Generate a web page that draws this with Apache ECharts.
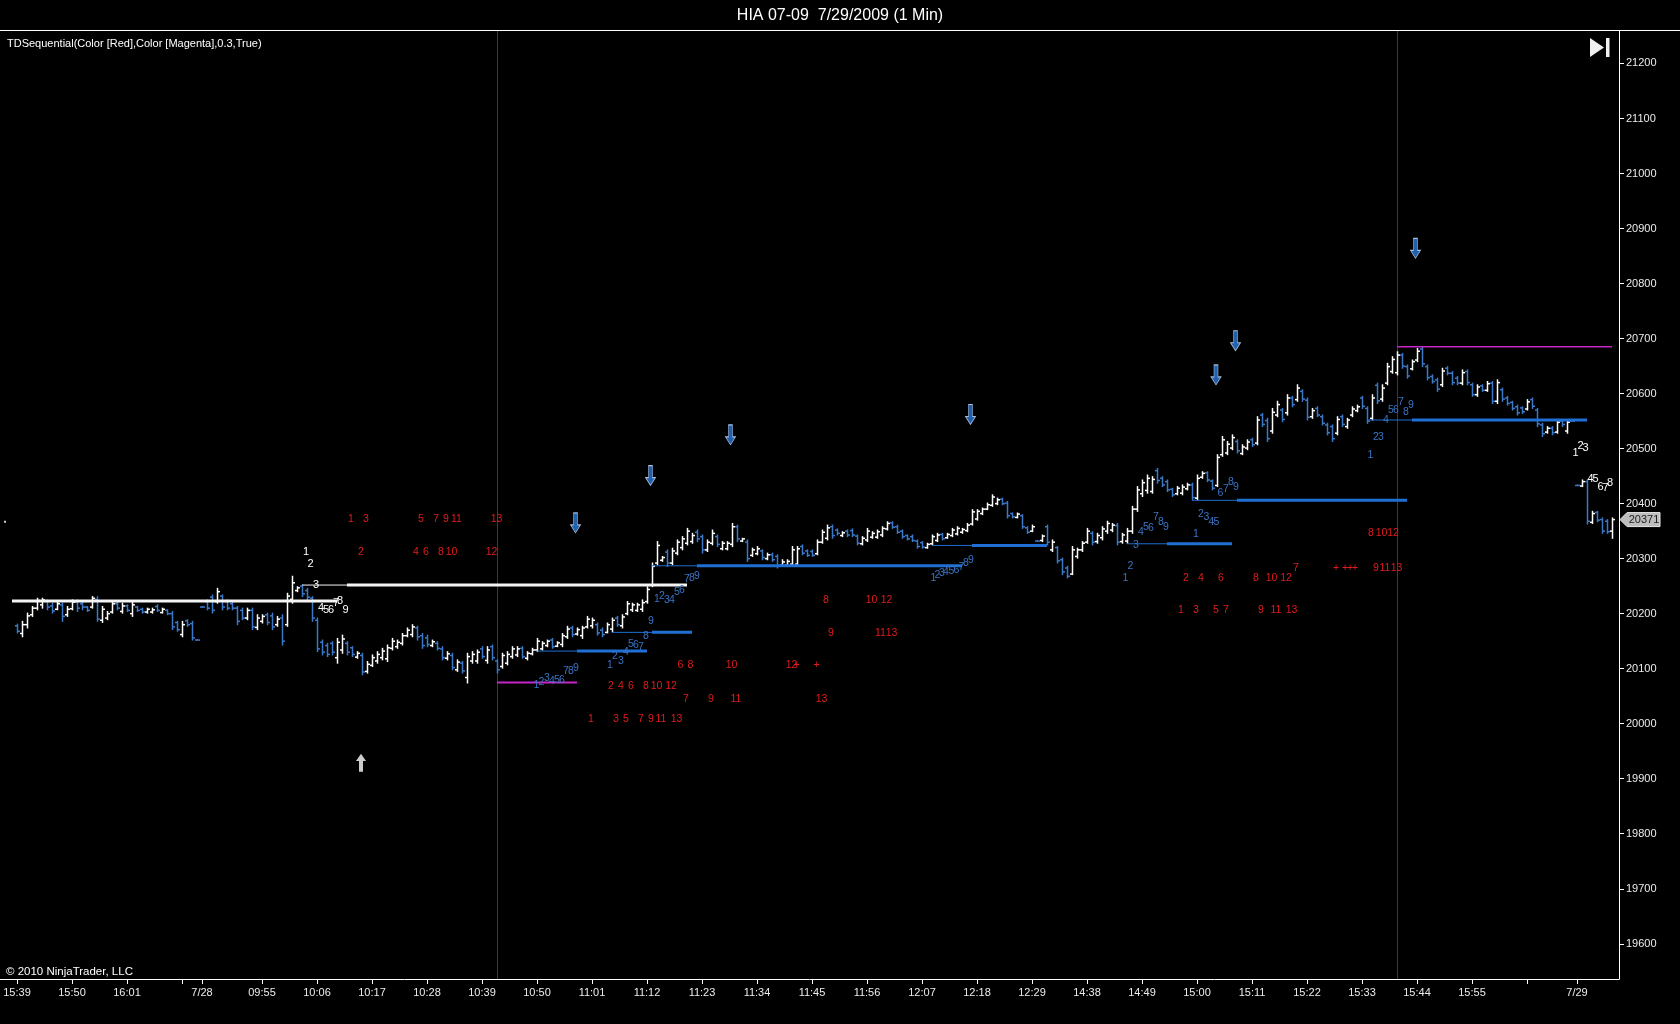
<!DOCTYPE html>
<html lang="en">
<head>
<meta charset="UTF-8">
<title>HIA 07-09 7/29/2009 (1 Min)</title>
<style>
  html, body { margin: 0; padding: 0; background: #000; }
  #chart { width: 1680px; height: 1024px; }
</style>
</head>
<body>
<div id="chart"></div>
<script src="https://cdn.jsdelivr.net/npm/echarts@6/dist/echarts.min.js"></script>
<script>
const FONT = '"Liberation Sans", Arial, sans-serif';

// x axis: bar index -> time label ('' = tick only)
const tickIdx  = [0, 11, 22, 33, 37, 49, 60, 71, 82, 93, 104, 115, 126, 137, 148, 159, 170, 181, 192, 203,
                  214, 225, 236, 247, 258, 269, 280, 291, 302, 312];
const tickText = ['15:39', '15:50', '16:01', '', '7/28', '09:55', '10:06', '10:17', '10:28', '10:39', '10:50',
                  '11:01', '11:12', '11:23', '11:34', '11:45', '11:56', '12:07', '12:18', '12:29', '14:38',
                  '14:49', '15:00', '15:11', '15:22', '15:33', '15:44', '15:55', '', '7/29'];
const priceTicks = [19600, 19700, 19800, 19900, 20000, 20100, 20200, 20300, 20400, 20500,
                    20600, 20700, 20800, 20900, 21000, 21100, 21200];

// first bar index of each session
const sessionStart = [0, 37, 205, 312];

// [open, high, low, close]
const day1Bars = [
  [20178,20181,20165,20168],[20164,20186,20158,20180],[20180,20201,20174,20196],[20198,20213,20195,20210],[20210,20228,20207,20224], // 0
  [20216,20228,20210,20225],[20222,20225,20207,20212],[20214,20219,20201,20205],[20208,20222,20207,20218],[20216,20219,20186,20195], // 5
  [20198,20213,20195,20208],[20209,20225,20207,20221],[20221,20225,20204,20210],[20218,20222,20207,20212],[20212,20213,20204,20206], // 10
  [20212,20231,20210,20228],[20226,20231,20186,20190],[20188,20213,20184,20208],[20192,20204,20189,20200],[20203,20222,20201,20218], // 15
  [20218,20222,20207,20210],[20204,20219,20201,20214],[20214,20216,20204,20206],[20200,20222,20195,20216],[20212,20213,20204,20206], // 20
  [20208,20210,20201,20203],[20203,20210,20201,20208],[20203,20210,20201,20207],[20213,20216,20204,20206],[20202,20210,20201,20208], // 25
  [20206,20207,20198,20200],[20200,20204,20171,20176],[20184,20186,20168,20171],[20162,20186,20158,20180],[20187,20189,20177,20180], // 30
  [20182,20186,20152,20156],[20152,20153,20152,20152]                                                                                 // 35
];
const amBars = [
  [20212,20213,20212,20212],[20222,20225,20207,20210],[20230,20234,20201,20206],[20222,20246,20219,20240],[20232,20234,20207,20212], // 37
  [20222,20225,20207,20210],[20218,20222,20207,20210],[20210,20213,20180,20186],[20206,20210,20189,20192],[20192,20210,20189,20206], // 42
  [20206,20210,20171,20176],[20175,20198,20171,20192],[20186,20198,20183,20195],[20198,20201,20180,20184],[20196,20201,20171,20176], // 47
  [20180,20195,20177,20190],[20192,20198,20143,20150],[20180,20237,20177,20232],[20226,20268,20219,20256],[20242,20249,20240,20247], // 52
  [20250,20252,20231,20236],[20242,20246,20225,20230],[20228,20231,20186,20192],[20188,20192,20131,20136],[20148,20152,20125,20130], // 57
  [20142,20146,20122,20126],[20146,20149,20125,20130],[20120,20155,20110,20148],[20134,20161,20128,20154],[20146,20149,20125,20130], // 62
  [20138,20140,20122,20126],[20121,20131,20119,20128],[20124,20128,20089,20094],[20095,20113,20092,20108],[20106,20125,20104,20120], // 67
  [20114,20131,20110,20126],[20120,20137,20116,20132],[20118,20143,20113,20138],[20137,20155,20134,20150],[20140,20152,20137,20148], // 72
  [20146,20164,20143,20160],[20160,20174,20158,20170],[20162,20180,20158,20176],[20174,20177,20152,20158],[20160,20164,20137,20142], // 77
  [20156,20161,20140,20144],[20142,20152,20140,20149],[20146,20149,20134,20137],[20136,20140,20116,20120],[20119,20131,20116,20127], // 82
  [20124,20128,20098,20102],[20098,20116,20095,20112],[20110,20113,20092,20096],[20084,20128,20074,20122],[20114,20131,20110,20126], // 87
  [20114,20134,20110,20130],[20136,20140,20119,20122],[20115,20140,20110,20134],[20140,20143,20116,20120],[20114,20116,20092,20098], // 92
  [20104,20128,20101,20124],[20110,20131,20107,20126],[20122,20140,20119,20136],[20125,20140,20122,20136],[20137,20140,20119,20122], // 97
  [20119,20131,20116,20128],[20127,20137,20125,20134],[20134,20155,20131,20150],[20136,20149,20134,20146],[20142,20152,20140,20150], // 102
  [20152,20155,20137,20140],[20141,20149,20140,20147],[20144,20164,20140,20160],[20158,20177,20155,20172],[20174,20177,20158,20162], // 107
  [20163,20174,20161,20171],[20160,20177,20155,20174],[20176,20195,20174,20190],[20178,20192,20174,20188],[20180,20183,20161,20165], // 112
  [20170,20174,20158,20162],[20166,20183,20165,20180],[20172,20192,20167,20188],[20192,20195,20177,20180],[20178,20198,20174,20194], // 117
  [20200,20222,20198,20218],[20207,20219,20204,20216],[20206,20219,20204,20216],[20208,20225,20204,20220],[20222,20249,20219,20244], // 122
  [20252,20292,20249,20286],[20292,20331,20289,20324],[20297,20304,20295,20302],[20312,20316,20286,20292],[20292,20319,20289,20314], // 127
  [20310,20334,20307,20330],[20320,20340,20316,20336],[20328,20355,20325,20350],[20331,20346,20328,20342],[20348,20352,20331,20336], // 132
  [20340,20343,20310,20316],[20316,20334,20313,20330],[20328,20352,20325,20346],[20340,20343,20322,20326],[20318,20331,20316,20328], // 137
  [20318,20331,20316,20328],[20326,20364,20322,20358],[20358,20361,20331,20336],[20332,20337,20331,20336],[20330,20334,20295,20300], // 142
  [20306,20319,20304,20316],[20309,20322,20307,20318],[20314,20316,20298,20302],[20300,20310,20298,20307],[20307,20310,20295,20298], // 147
  [20304,20307,20283,20288],[20288,20298,20286,20294],[20288,20298,20286,20295],[20290,20322,20286,20316],[20290,20322,20286,20318], // 152
  [20322,20325,20307,20310],[20314,20316,20304,20306],[20313,20316,20304,20306],[20309,20334,20307,20330],[20330,20352,20328,20348], // 157
  [20337,20361,20334,20356],[20358,20361,20337,20342],[20352,20354,20343,20346],[20342,20349,20340,20347],[20350,20352,20340,20343], // 162
  [20351,20354,20340,20343],[20341,20343,20325,20328],[20327,20340,20325,20337],[20334,20355,20331,20350],[20339,20349,20337,20346], // 167
  [20339,20352,20337,20349],[20343,20358,20340,20355],[20354,20367,20352,20364],[20365,20367,20355,20357],[20358,20361,20346,20348], // 172
  [20350,20352,20337,20340],[20342,20343,20334,20336],[20340,20343,20331,20333],[20332,20334,20319,20322],[20329,20331,20319,20321], // 177
  [20320,20328,20319,20326],[20327,20343,20325,20340],[20333,20346,20331,20343],[20344,20346,20334,20336],[20338,20346,20337,20344], // 182
  [20342,20355,20340,20352],[20345,20358,20343,20355],[20348,20355,20346,20353],[20351,20364,20349,20361],[20363,20389,20361,20385], // 187
  [20372,20389,20370,20386],[20382,20392,20380,20390],[20390,20401,20389,20398],[20397,20416,20395,20412],[20400,20410,20398,20407], // 192
  [20408,20410,20398,20400],[20401,20404,20374,20378],[20382,20383,20374,20376],[20375,20383,20374,20381],[20378,20380,20355,20358], // 197
  [20356,20358,20346,20348],[20350,20361,20349,20358],[20332,20333,20332,20332]                                                       // 202
];
const pmBars = [
  [20333,20343,20331,20341],[20358,20361,20325,20330],[20316,20334,20313,20330],[20320,20322,20292,20296],[20298,20301,20271,20276], // 205
  [20283,20286,20265,20268],[20272,20322,20271,20316],[20304,20319,20301,20316],[20316,20331,20313,20328],[20330,20355,20328,20350], // 210
  [20346,20349,20325,20330],[20331,20346,20328,20342],[20338,20358,20334,20354],[20350,20368,20346,20364],[20352,20364,20349,20361], // 215
  [20360,20364,20325,20330],[20331,20346,20328,20343],[20332,20355,20328,20350],[20350,20395,20346,20390],[20390,20431,20386,20425], // 220
  [20418,20443,20413,20438],[20424,20452,20419,20446],[20422,20449,20419,20444],[20460,20464,20437,20442],[20446,20449,20431,20434], // 225
  [20440,20443,20422,20425],[20426,20428,20413,20416],[20418,20431,20416,20428],[20419,20434,20416,20430],[20427,20437,20425,20434], // 230
  [20434,20437,20407,20411],[20410,20452,20407,20446],[20448,20458,20446,20455],[20456,20458,20440,20443],[20441,20443,20425,20428], // 235
  [20433,20489,20431,20484],[20489,20522,20486,20516],[20492,20513,20489,20508],[20501,20525,20498,20520],[20513,20516,20492,20496], // 240
  [20491,20507,20489,20503],[20501,20516,20498,20512],[20516,20519,20504,20507],[20510,20558,20507,20552],[20561,20564,20540,20544], // 245
  [20551,20555,20513,20518],[20532,20573,20528,20566],[20561,20586,20558,20580],[20570,20573,20549,20553],[20565,20598,20561,20592], // 250
  [20592,20595,20576,20580],[20589,20616,20586,20610],[20604,20607,20586,20590],[20588,20592,20552,20557],[20558,20573,20555,20569], // 255
  [20573,20576,20558,20561],[20558,20561,20543,20546],[20543,20546,20525,20529],[20540,20543,20513,20518],[20528,20558,20525,20553], // 260
  [20558,20561,20540,20544],[20540,20555,20537,20552],[20561,20576,20558,20572],[20569,20579,20567,20576],[20592,20595,20573,20577], // 265
  [20573,20576,20546,20550],[20555,20598,20552,20592],[20615,20619,20582,20587],[20590,20616,20586,20610],[20619,20655,20616,20649], // 270
  [20640,20667,20637,20662],[20638,20676,20634,20670],[20670,20673,20646,20650],[20649,20652,20628,20632],[20645,20661,20643,20658], // 275
  [20661,20682,20658,20677],[20681,20685,20649,20654],[20649,20652,20625,20629],[20631,20634,20619,20622],[20625,20628,20604,20608], // 280
  [20616,20646,20613,20641],[20646,20649,20634,20637],[20637,20640,20616,20620],[20628,20631,20616,20619],[20619,20643,20616,20638], // 285
  [20640,20643,20616,20620],[20616,20619,20595,20598],[20598,20616,20595,20612],[20614,20616,20604,20606],[20606,20622,20604,20618], // 290
  [20619,20622,20582,20586],[20586,20625,20582,20620],[20607,20610,20586,20590],[20592,20595,20579,20582],[20584,20586,20570,20573], // 295
  [20576,20579,20561,20565],[20574,20576,20564,20567],[20572,20589,20570,20585],[20589,20592,20573,20577],[20570,20573,20540,20545], // 300
  [20543,20546,20522,20527],[20530,20540,20528,20537],[20537,20540,20525,20529],[20530,20552,20528,20548],[20550,20552,20540,20544], // 305
  [20532,20552,20528,20548],[20550,20551,20550,20550]                                                                                 // 310
];
const day3Bars = [
  [20433,20434,20433,20433],[20432,20443,20431,20440],[20440,20443,20363,20368],[20366,20386,20364,20382],[20384,20386,20367,20370], // 312
  [20371,20374,20346,20350],[20368,20371,20346,20349],[20350,20374,20337,20371]                                                       // 317
];
const lastPrice = 20371;

// TDST levels: [fromBar, toBar, price, lineWidth]
const whiteLevels = [[-1, 64, 20223, 3], [57, 66, 20252, 1], [66, 134, 20252, 3]];
const blueLevels = [
  [104, 112, 20132, 1], [112, 126, 20132, 3], [119, 127, 20166, 1], [127, 135, 20166, 3],
  [127, 136, 20287, 1], [136, 189, 20287, 3], [183, 191, 20324, 1], [191, 206, 20324, 3],
  [222, 230, 20327, 1], [230, 243, 20327, 3], [235, 244, 20406, 1], [244, 278, 20406, 3],
  [270, 279, 20552, 1], [279, 314, 20552, 3]
];
const magentaLevels = [[96, 112, 20075, 2], [276, 319, 20685, 1.5]];

// countdown completion markers (bar index of red vertical line)
const countdownBars = [95.9, 275.9];

// TD counts: [bar, price, text]
const redMarks = [
  [66.8,20372,'1'],[69.8,20372,'3'],[80.8,20372,'5'],[83.8,20372,'7'],[85.8,20372,'9'],[87.9,20372,'11'],[95.9,20372,'13'],
  [68.8,20312,'2'],[79.8,20312,'4'],[81.8,20312,'6'],[84.8,20312,'8'],[86.9,20312,'10'],[94.9,20312,'12'],
  [132.7,20106,'6'],[134.7,20106,'8'],[142.9,20106,'10'],[154.9,20106,'12'],[155.9,20106,'+'],[159.9,20106,'+'],
  [118.8,20069,'2'],[120.8,20069,'4'],[122.8,20069,'6'],[125.8,20069,'8'],[127.9,20069,'10'],[130.8,20069,'12'],
  [133.8,20045,'7'],[138.8,20045,'9'],[143.8,20045,'11'],[160.9,20045,'13'],
  [114.8,20009,'1'],[119.8,20009,'3'],[121.8,20009,'5'],[124.8,20009,'7'],[126.8,20009,'9'],[128.8,20009,'11'],[131.9,20009,'13'],
  [161.8,20225,'8'],[170.9,20225,'10'],[173.9,20225,'12'],
  [162.8,20165,'9'],[172.7,20165,'11'],[174.9,20165,'13'],
  [233.8,20264,'2'],[236.8,20264,'4'],[240.8,20264,'6'],[247.8,20264,'8'],[250.9,20264,'10'],[253.8,20264,'12'],
  [255.8,20283,'7'],[263.8,20283,'+'],[265.6,20283,'+'],[266.6,20283,'+'],[267.6,20283,'+'],
  [232.8,20206,'1'],[235.8,20206,'3'],[239.8,20206,'5'],[241.8,20206,'7'],[248.8,20206,'9'],[251.8,20206,'11'],[254.9,20206,'13'],
  [270.8,20346,'8'],[272.9,20346,'10'],[275.2,20346,'12'],
  [271.8,20283,'9'],[273.6,20283,'11'],[275.9,20283,'13']
];
const blueMarks = [
  [103.9,20071,'1'],[104.9,20075,'2'],[106,20082,'3'],[107,20077,'4'],[108,20080,'5'],[109,20080,'6'],[109.8,20095,'7'],[110.8,20095,'8'],[111.8,20101,'9'],
  [118.6,20107,'1'],[119.6,20122,'2'],[120.8,20114,'3'],[121.8,20131,'4'],[122.8,20145,'5'],[123.8,20143,'6'],[124.8,20140,'7'],[125.8,20160,'8'],[126.8,20187,'9'],
  [128,20226,'1'],[129,20231,'2'],[130,20225,'3'],[131,20224,'4'],[132,20240,'5'],[133,20242,'6'],[134,20263,'7'],[135,20265,'8'],[136,20269,'9'],
  [183.3,20265,'1'],[184.1,20270,'2'],[185,20274,'3'],[185.8,20275,'4'],[186.9,20278,'5'],[187.9,20280,'6'],[188.9,20284,'7'],[189.8,20292,'8'],[190.8,20298,'9'],
  [221.7,20265,'1'],[222.7,20286,'2'],[223.8,20324,'3'],[224.8,20349,'4'],[225.8,20358,'5'],[226.8,20356,'6'],[227.8,20375,'7'],[228.8,20367,'8'],[229.8,20358,'9'],
  [235.8,20345,'1'],[236.8,20381,'2'],[237.9,20376,'3'],[238.9,20366,'4'],[239.9,20366,'5'],[240.7,20419,'6'],[241.8,20427,'7'],[242.8,20440,'8'],[243.8,20430,'9'],
  [270.7,20489,'1'],[271.8,20521,'2'],[272.8,20521,'3'],[273.8,20552,'4'],[274.8,20570,'5'],[275.8,20570,'6'],[276.8,20585,'7'],[277.8,20567,'8'],[278.8,20579,'9']
];
const whiteMarks = [
  [57.8,20313,'1'],[58.7,20290,'2'],[59.8,20252,'3'],[60.8,20211,'4'],[61.8,20206,'5'],[62.8,20206,'6'],[63.8,20219,'7'],[64.6,20223,'8'],[65.7,20207,'9'],
  [311.7,20492,'1'],[312.7,20505,'2'],[313.7,20501,'3'],[314.7,20444,'4'],[315.7,20444,'5'],[316.7,20431,'6'],[317.7,20428,'7'],[318.6,20437,'8']
];

// signal arrows [bar, price]
const sellArrows = [[111.7,20365],[126.7,20451],[142.7,20525],[190.7,20562],[239.8,20634],[243.7,20696],[279.7,20864]];
const buyArrows = [[68.8,19929]];
const strayDots = [[-2.4,20367]];

const UP = '#ffffff', DOWN = '#3b78c8', LEVEL_BLUE = '#1f6fd4', MAGENTA = '#c626c6', RED = '#e21c1c';

const bars = [];
[day1Bars, amBars, pmBars, day3Bars].forEach((arr, s) => {
  arr.forEach((b, k) => bars.push([sessionStart[s] + k, b[0], b[1], b[2], b[3]]));
});

function renderBar(params, api) {
  const i = api.value(0);
  const o = api.coord([i, api.value(1)]);
  const h = api.coord([i, api.value(2)]);
  const l = api.coord([i, api.value(3)]);
  const c = api.coord([i, api.value(4)]);
  const x = Math.round(h[0]) + 0.5;
  const color = api.value(4) > api.value(1) ? UP : DOWN;
  const st = { stroke: color, lineWidth: 1.5 };
  return {
    type: 'group',
    children: [
      { type: 'line', shape: { x1: x, y1: h[1] - 0.5, x2: x, y2: l[1] + 0.5 }, style: st },
      { type: 'line', shape: { x1: x - 2.5, y1: o[1], x2: x, y2: o[1] }, style: st },
      { type: 'line', shape: { x1: x, y1: c[1], x2: x + 2.5, y2: c[1] }, style: st }
    ]
  };
}

function levelRenderer(color) {
  return function (params, api) {
    const a = api.coord([api.value(0), api.value(2)]);
    const b = api.coord([api.value(1), api.value(2)]);
    const w = api.value(3);
    return {
      type: 'line',
      shape: { x1: a[0], y1: a[1], x2: b[0], y2: a[1] },
      style: { stroke: color, lineWidth: w }
    };
  };
}

function textRenderer(list, color, size) {
  return function (params, api) {
    const m = list[params.dataIndex];
    const p = api.coord([m[0], m[1]]);
    return {
      type: 'text', x: p[0], y: p[1],
      style: { text: m[2], fill: color, fontSize: size, fontFamily: FONT, align: 'center', verticalAlign: 'middle' }
    };
  };
}

const Y_MIN = 19536, Y_MAX = 21259;

function renderVLine(params, api) {
  const top = api.coord([api.value(0), Y_MAX]);
  const bot = api.coord([api.value(0), Y_MIN]);
  const x = Math.round(top[0]) + 0.5;
  return { type: 'line', shape: { x1: x, y1: top[1], x2: x, y2: bot[1] }, style: { stroke: '#a01010', lineWidth: 1 } };
}

const chart = echarts.init(document.getElementById('chart'));

chart.setOption({
  animation: false,
  backgroundColor: '#000000',
  textStyle: { fontFamily: FONT },
  title: {
    text: 'HIA 07-09  7/29/2009 (1 Min)',
    left: 'center', top: 3,
    textStyle: { color: '#ffffff', fontSize: 16, fontWeight: 'normal', fontFamily: FONT }
  },
  grid: { left: 0, right: 61, top: 31, bottom: 45, outerBoundsMode: 'none' },
  xAxis: {
    type: 'value', min: -3.4, max: 320.4,
    axisLine: { onZero: false, lineStyle: { color: '#ffffff', width: 1 } },
    axisTick: { show: true, length: 5, lineStyle: { color: '#ffffff' }, customValues: tickIdx },
    axisLabel: {
      color: '#ececec', fontSize: 11, fontFamily: FONT, margin: 8, customValues: tickIdx,
      formatter: v => tickText[tickIdx.indexOf(v)] || ''
    },
    splitLine: { show: false }
  },
  yAxis: {
    type: 'value', position: 'right', min: Y_MIN, max: Y_MAX,
    axisLine: { show: true, onZero: false, lineStyle: { color: '#ffffff', width: 1 } },
    axisTick: { show: true, length: 5, lineStyle: { color: '#ffffff' }, customValues: priceTicks },
    axisLabel: {
      color: '#ececec', fontSize: 11, fontFamily: FONT, margin: 7, customValues: priceTicks,
      formatter: v => String(v)
    },
    splitLine: { show: false }
  },
  series: [
    { type: 'custom', name: 'countdown', data: countdownBars.map(v => [v, Y_MAX]), renderItem: renderVLine, silent: true },
    { type: 'custom', name: 'bars', data: bars, renderItem: renderBar, silent: true },
    { type: 'custom', name: 'whiteLevels', data: whiteLevels, renderItem: levelRenderer('#f4f4f4'), silent: true },
    { type: 'custom', name: 'blueLevels', data: blueLevels, renderItem: levelRenderer(LEVEL_BLUE), silent: true },
    { type: 'custom', name: 'magentaLevels', data: magentaLevels, renderItem: levelRenderer(MAGENTA), silent: true },
    { type: 'custom', name: 'redMarks', data: redMarks.map(m => [m[0], m[1]]), renderItem: textRenderer(redMarks, RED, 10.5), silent: true },
    { type: 'custom', name: 'blueMarks', data: blueMarks.map(m => [m[0], m[1]]), renderItem: textRenderer(blueMarks, '#3a74c4', 10.5), silent: true },
    { type: 'custom', name: 'whiteMarks', data: whiteMarks.map(m => [m[0], m[1]]), renderItem: textRenderer(whiteMarks, '#ffffff', 11), silent: true },
    {
      type: 'scatter', name: 'sell', data: sellArrows, silent: true,
      symbol: 'path://M3,0L7,0L7,12L10,12L5,20L0,12L3,12Z', symbolSize: [10, 20],
      itemStyle: { color: '#2a78d8', borderColor: '#cfe2ff', borderWidth: 0.8 }
    },
    {
      type: 'scatter', name: 'buy', data: buyArrows, silent: true,
      symbol: 'path://M5,0L10,8L7,8L7,20L3,20L3,8L0,8Z', symbolSize: [10, 18],
      itemStyle: { color: '#ffffff' }
    },
    {
      type: 'scatter', name: 'dots', data: strayDots, silent: true,
      symbol: 'rect', symbolSize: 2, itemStyle: { color: '#ffffff' }
    }
  ],
  graphic: [
    { id: 'topLine', type: 'line', shape: { x1: 0, y1: 30.5, x2: 1680, y2: 30.5 }, style: { stroke: '#ffffff', lineWidth: 1 } },
    {
      id: 'indicator', type: 'text', x: 7, y: 44,
      style: { text: 'TDSequential(Color [Red],Color [Magenta],0.3,True)', fill: '#ffffff', fontSize: 11, fontFamily: FONT, verticalAlign: 'middle' }
    },
    {
      id: 'copyright', type: 'text', x: 6, y: 978,
      style: { text: '\u00a9 2010 NinjaTrader, LLC', fill: '#ffffff', fontSize: 11.5, fontFamily: FONT, verticalAlign: 'bottom' }
    },
    { id: 'endTri', type: 'polygon', shape: { points: [[1590, 38], [1590, 57], [1604, 47.5]] }, style: { fill: '#f0f0f0' } },
    { id: 'endBar', type: 'rect', shape: { x: 1606, y: 38, width: 3.5, height: 19 }, style: { fill: '#f0f0f0' } }
  ]
});

// last price tag on the price axis
const tagY = chart.convertToPixel({ yAxisIndex: 0 }, lastPrice);
const axisX = chart.convertToPixel({ xAxisIndex: 0 }, 320.4);
chart.setOption({
  graphic: [
    {
      id: 'tagBox', type: 'polygon',
      shape: { points: [[axisX + 1, tagY], [axisX + 8, tagY - 7], [axisX + 41, tagY - 7], [axisX + 41, tagY + 7], [axisX + 8, tagY + 7]] },
      style: { fill: '#bdbdbd', stroke: '#e6e6e6', lineWidth: 1 }
    },
    {
      id: 'tagText', type: 'text', x: axisX + 25, y: tagY,
      style: { text: String(lastPrice), fill: '#1c1c1c', fontSize: 11, fontFamily: FONT, align: 'center', verticalAlign: 'middle' }
    }
  ]
});
</script>
</body>
</html>
